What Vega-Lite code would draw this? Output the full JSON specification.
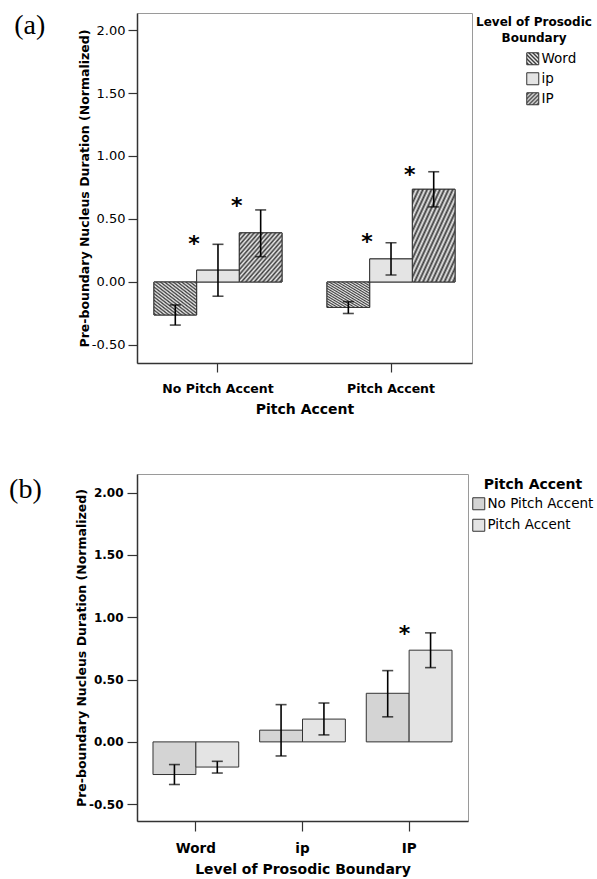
{
  "$schema": "https://vega.github.io/schema/vega-lite/v6.json",
  "padding": {"left": 8, "top": 11, "right": 0, "bottom": 4},
  "datasets": {
    "d": [
      {"accent": "No Pitch Accent", "level": "Word", "mean": -0.262, "lo": -0.342, "hi": -0.182, "star": null, "starB": null},
      {"accent": "No Pitch Accent", "level": "ip", "mean": 0.094, "lo": -0.113, "hi": 0.299, "star": 0.34, "starB": null},
      {"accent": "No Pitch Accent", "level": "IP", "mean": 0.39, "lo": 0.201, "hi": 0.572, "star": 0.64, "starB": null},
      {"accent": "Pitch Accent", "level": "Word", "mean": -0.202, "lo": -0.25, "hi": -0.156, "star": null, "starB": null},
      {"accent": "Pitch Accent", "level": "ip", "mean": 0.183, "lo": 0.056, "hi": 0.312, "star": 0.36, "starB": null},
      {"accent": "Pitch Accent", "level": "IP", "mean": 0.736, "lo": 0.596, "hi": 0.875, "star": 0.89, "starB": 0.905}
    ]
  },
  "columns": 1,
  "align": "none",
  "spacing": 56,
  "resolve": {
    "scale": {"x": "independent", "y": "independent", "fill": "independent", "xOffset": "independent"},
    "legend": {"fill": "independent"},
    "axis": {"x": "independent", "y": "independent"}
  },
  "concat": [
    {
      "width": 335,
      "height": 350,
      "title": {"text": "(a)", "orient": "left", "angle": 0, "anchor": "end", "align": "right", "baseline": "top", "font": "Liberation Serif", "fontSize": 28, "fontWeight": "normal", "color": "#000", "offset": 2, "frame": "group", "dy": -1},
      "data": {"name": "d"},
      "encoding": {
        "x": {
          "field": "accent", "type": "nominal", "sort": ["No Pitch Accent", "Pitch Accent"],
          "scale": {"paddingInner": 0.26, "paddingOuter": 0.098},
          "title": "Pitch Accent",
          "axis": {"labelAngle": 0, "tickSize": 9, "labelPadding": 10, "labelFontSize": 12.5, "labelFontWeight": "bold", "titleFontSize": 14, "titleFontWeight": "bold", "titlePadding": 8, "domainWidth": 1.5, "tickWidth": 1.2}
        },
        "xOffset": {"field": "level", "type": "nominal", "sort": ["Word", "ip", "IP"], "scale": {"paddingInner": 0, "paddingOuter": 0}}
      },
      "layer": [
        {
          "mark": {"type": "bar", "stroke": "#333", "strokeWidth": 1},
          "encoding": {
            "y": {
              "field": "mean", "type": "quantitative",
              "scale": {"domain": [-0.643, 2.135], "nice": false, "zero": false},
              "title": "Pre-boundary Nucleus Duration (Normalized)",
              "axis": {"values": [-0.5, 0, 0.5, 1, 1.5, 2], "labelExpr": "datum.value < 0 ? '-' + format(-datum.value, '.2f') : format(datum.value, '.2f')", "labelFontSize": 13, "labelFontWeight": "normal", "tickSize": 9, "labelPadding": 3, "titleFontSize": 12.5, "titleFontWeight": "bold", "titlePadding": 0, "domainWidth": 1.5, "tickWidth": 1.2}
            },
            "y2": {"datum": 0},
            "fill": {
              "field": "level", "type": "nominal", "sort": ["Word", "ip", "IP"],
              "scale": {"range": [
                {"expr": "{gradient:'linear',x1:0,y1:1,x2:1,y2:0,stops:[{offset:0,color:'#ececec'},{offset:0.083,color:'#3c3c3c'},{offset:0.167,color:'#ececec'},{offset:0.25,color:'#3c3c3c'},{offset:0.333,color:'#ececec'},{offset:0.417,color:'#3c3c3c'},{offset:0.5,color:'#ececec'},{offset:0.583,color:'#3c3c3c'},{offset:0.667,color:'#ececec'},{offset:0.75,color:'#3c3c3c'},{offset:0.833,color:'#ececec'},{offset:0.917,color:'#3c3c3c'},{offset:1,color:'#ececec'}]}"},
                "#e4e4e4",
                {"expr": "{gradient:'linear',x1:0,y1:0,x2:1,y2:1,stops:[{offset:0,color:'#ececec'},{offset:0.083,color:'#3c3c3c'},{offset:0.167,color:'#ececec'},{offset:0.25,color:'#3c3c3c'},{offset:0.333,color:'#ececec'},{offset:0.417,color:'#3c3c3c'},{offset:0.5,color:'#ececec'},{offset:0.583,color:'#3c3c3c'},{offset:0.667,color:'#ececec'},{offset:0.75,color:'#3c3c3c'},{offset:0.833,color:'#ececec'},{offset:0.917,color:'#3c3c3c'},{offset:1,color:'#ececec'}]}"}
              ]},
              "legend": {
                "title": ["Level of Prosodic", "Boundary"],
                "titleFontSize": 12, "titleFontWeight": "bold", "titleAlign": "center", "titleAnchor": "middle", "titleLineHeight": 16, "titlePadding": 7, "titleLimit": 300,
                "symbolType": "square", "symbolSize": 144, "symbolStrokeColor": "#333", "symbolStrokeWidth": 1,
                "symbolOffset": 34, "labelOffset": 2,
                "labelFont": "DejaVu Sans", "labelFontSize": 13.5, "rowPadding": 3, "offset": 0, "padding": 4
              }
            }
          }
        },
        {
          "mark": {"type": "bar", "stroke": "#333", "strokeWidth": 1},
          "encoding": {
            "y": {"field": "mean", "type": "quantitative"},
            "y2": {"datum": 0},
            "fill": {
              "condition": [
                {"test": "datum.level === 'Word'", "value": {"gradient": "linear", "x1": 0, "y1": 1, "x2": 1, "y2": 0, "stops": [{"offset":0,"color":"#ececec"},{"offset":0.025,"color":"#3c3c3c"},{"offset":0.05,"color":"#ececec"},{"offset":0.075,"color":"#3c3c3c"},{"offset":0.1,"color":"#ececec"},{"offset":0.125,"color":"#3c3c3c"},{"offset":0.15,"color":"#ececec"},{"offset":0.175,"color":"#3c3c3c"},{"offset":0.2,"color":"#ececec"},{"offset":0.225,"color":"#3c3c3c"},{"offset":0.25,"color":"#ececec"},{"offset":0.275,"color":"#3c3c3c"},{"offset":0.3,"color":"#ececec"},{"offset":0.325,"color":"#3c3c3c"},{"offset":0.35,"color":"#ececec"},{"offset":0.375,"color":"#3c3c3c"},{"offset":0.4,"color":"#ececec"},{"offset":0.425,"color":"#3c3c3c"},{"offset":0.45,"color":"#ececec"},{"offset":0.475,"color":"#3c3c3c"},{"offset":0.5,"color":"#ececec"},{"offset":0.525,"color":"#3c3c3c"},{"offset":0.55,"color":"#ececec"},{"offset":0.575,"color":"#3c3c3c"},{"offset":0.6,"color":"#ececec"},{"offset":0.625,"color":"#3c3c3c"},{"offset":0.65,"color":"#ececec"},{"offset":0.675,"color":"#3c3c3c"},{"offset":0.7,"color":"#ececec"},{"offset":0.725,"color":"#3c3c3c"},{"offset":0.75,"color":"#ececec"},{"offset":0.775,"color":"#3c3c3c"},{"offset":0.8,"color":"#ececec"},{"offset":0.825,"color":"#3c3c3c"},{"offset":0.85,"color":"#ececec"},{"offset":0.875,"color":"#3c3c3c"},{"offset":0.9,"color":"#ececec"},{"offset":0.925,"color":"#3c3c3c"},{"offset":0.95,"color":"#ececec"},{"offset":0.975,"color":"#3c3c3c"},{"offset":1,"color":"#ececec"}]}},
                {"test": "datum.level === 'IP'", "value": {"gradient": "linear", "x1": 0, "y1": 0, "x2": 1, "y2": 1, "stops": [{"offset":0,"color":"#ececec"},{"offset":0.025,"color":"#3c3c3c"},{"offset":0.05,"color":"#ececec"},{"offset":0.075,"color":"#3c3c3c"},{"offset":0.1,"color":"#ececec"},{"offset":0.125,"color":"#3c3c3c"},{"offset":0.15,"color":"#ececec"},{"offset":0.175,"color":"#3c3c3c"},{"offset":0.2,"color":"#ececec"},{"offset":0.225,"color":"#3c3c3c"},{"offset":0.25,"color":"#ececec"},{"offset":0.275,"color":"#3c3c3c"},{"offset":0.3,"color":"#ececec"},{"offset":0.325,"color":"#3c3c3c"},{"offset":0.35,"color":"#ececec"},{"offset":0.375,"color":"#3c3c3c"},{"offset":0.4,"color":"#ececec"},{"offset":0.425,"color":"#3c3c3c"},{"offset":0.45,"color":"#ececec"},{"offset":0.475,"color":"#3c3c3c"},{"offset":0.5,"color":"#ececec"},{"offset":0.525,"color":"#3c3c3c"},{"offset":0.55,"color":"#ececec"},{"offset":0.575,"color":"#3c3c3c"},{"offset":0.6,"color":"#ececec"},{"offset":0.625,"color":"#3c3c3c"},{"offset":0.65,"color":"#ececec"},{"offset":0.675,"color":"#3c3c3c"},{"offset":0.7,"color":"#ececec"},{"offset":0.725,"color":"#3c3c3c"},{"offset":0.75,"color":"#ececec"},{"offset":0.775,"color":"#3c3c3c"},{"offset":0.8,"color":"#ececec"},{"offset":0.825,"color":"#3c3c3c"},{"offset":0.85,"color":"#ececec"},{"offset":0.875,"color":"#3c3c3c"},{"offset":0.9,"color":"#ececec"},{"offset":0.925,"color":"#3c3c3c"},{"offset":0.95,"color":"#ececec"},{"offset":0.975,"color":"#3c3c3c"},{"offset":1,"color":"#ececec"}]}}
              ],
              "value": "#e4e4e4"
            }
          }
        },
        {
          "mark": {"type": "rule", "color": "#000", "strokeWidth": 1.6},
          "encoding": {"y": {"field": "lo", "type": "quantitative"}, "y2": {"field": "hi"}}
        },
        {
          "mark": {"type": "tick", "color": "#000", "size": 11, "thickness": 1.6, "orient": "horizontal"},
          "encoding": {"y": {"field": "lo", "type": "quantitative"}}
        },
        {
          "mark": {"type": "tick", "color": "#000", "size": 11, "thickness": 1.6, "orient": "horizontal"},
          "encoding": {"y": {"field": "hi", "type": "quantitative"}}
        },
        {
          "transform": [{"filter": "datum.star != null"}],
          "mark": {"type": "text", "text": "*", "fontSize": 22, "fontWeight": "bold", "color": "#000", "dx": -24, "dy": 5, "baseline": "middle"},
          "encoding": {"y": {"field": "star", "type": "quantitative"}}
        }
      ]
    },
    {
      "width": 331,
      "height": 347,
      "title": {"text": "(b)", "orient": "left", "angle": 0, "anchor": "end", "align": "right", "baseline": "top", "font": "Liberation Serif", "fontSize": 28, "fontWeight": "normal", "color": "#000", "offset": 1, "frame": "group", "dy": 2},
      "data": {"name": "d"},
      "encoding": {
        "x": {
          "field": "level", "type": "nominal", "sort": ["Word", "ip", "IP"],
          "scale": {"paddingInner": 0.196, "paddingOuter": 0.15},
          "title": "Level of Prosodic Boundary",
          "axis": {"labelAngle": 0, "tickSize": 10, "labelPadding": 10, "labelFontSize": 13.5, "labelFontWeight": "bold", "titleFontSize": 14, "titleFontWeight": "bold", "titlePadding": 8, "domainWidth": 1.5, "tickWidth": 1.2}
        },
        "xOffset": {"field": "accent", "type": "nominal", "sort": ["No Pitch Accent", "Pitch Accent"], "scale": {"paddingInner": 0, "paddingOuter": 0}}
      },
      "layer": [
        {
          "mark": {"type": "bar", "stroke": "#333", "strokeWidth": 1},
          "encoding": {
            "y": {
              "field": "mean", "type": "quantitative",
              "scale": {"domain": [-0.635, 2.15], "nice": false, "zero": false},
              "title": "Pre-boundary Nucleus Duration (Normalized)",
              "axis": {"values": [-0.5, 0, 0.5, 1, 1.5, 2], "labelExpr": "datum.value < 0 ? '-' + format(-datum.value, '.2f') : format(datum.value, '.2f')", "labelFontSize": 12, "labelFontWeight": "bold", "tickSize": 10, "labelPadding": 4, "titleFontSize": 12.5, "titleFontWeight": "bold", "titlePadding": 0, "domainWidth": 1.5, "tickWidth": 1.2}
            },
            "y2": {"datum": 0},
            "fill": {
              "field": "accent", "type": "nominal", "sort": ["No Pitch Accent", "Pitch Accent"],
              "scale": {"range": ["#d4d4d4", "#e4e4e4"]},
              "legend": {
                "title": "Pitch Accent",
                "titleFontSize": 14, "titleFontWeight": "bold", "titleAlign": "center", "titleAnchor": "middle", "titlePadding": 5, "titleLimit": 300,
                "symbolType": "square", "symbolSize": 144, "symbolStrokeColor": "#333", "symbolStrokeWidth": 1,
                "labelOffset": 2, "labelFontSize": 13.5, "labelLimit": 300, "rowPadding": 4.5, "offset": 0, "padding": 4
              }
            }
          }
        },
        {
          "mark": {"type": "rule", "color": "#000", "strokeWidth": 1.6},
          "encoding": {"y": {"field": "lo", "type": "quantitative"}, "y2": {"field": "hi"}}
        },
        {
          "mark": {"type": "tick", "color": "#000", "size": 11, "thickness": 1.6, "orient": "horizontal"},
          "encoding": {"y": {"field": "lo", "type": "quantitative"}}
        },
        {
          "mark": {"type": "tick", "color": "#000", "size": 11, "thickness": 1.6, "orient": "horizontal"},
          "encoding": {"y": {"field": "hi", "type": "quantitative"}}
        },
        {
          "transform": [{"filter": "datum.starB != null"}],
          "mark": {"type": "text", "text": "*", "fontSize": 22, "fontWeight": "bold", "color": "#000", "dx": -26, "dy": 5, "baseline": "middle"},
          "encoding": {"y": {"field": "starB", "type": "quantitative"}}
        }
      ]
    }
  ],
  "config": {
    "font": "DejaVu Sans",
    "view": {"stroke": "#9a9a9a", "strokeWidth": 1},
    "axis": {"labelColor": "#000", "titleColor": "#000", "domainColor": "#333", "tickColor": "#333", "grid": false},
    "legend": {"labelColor": "#000", "titleColor": "#000"}
  }
}
